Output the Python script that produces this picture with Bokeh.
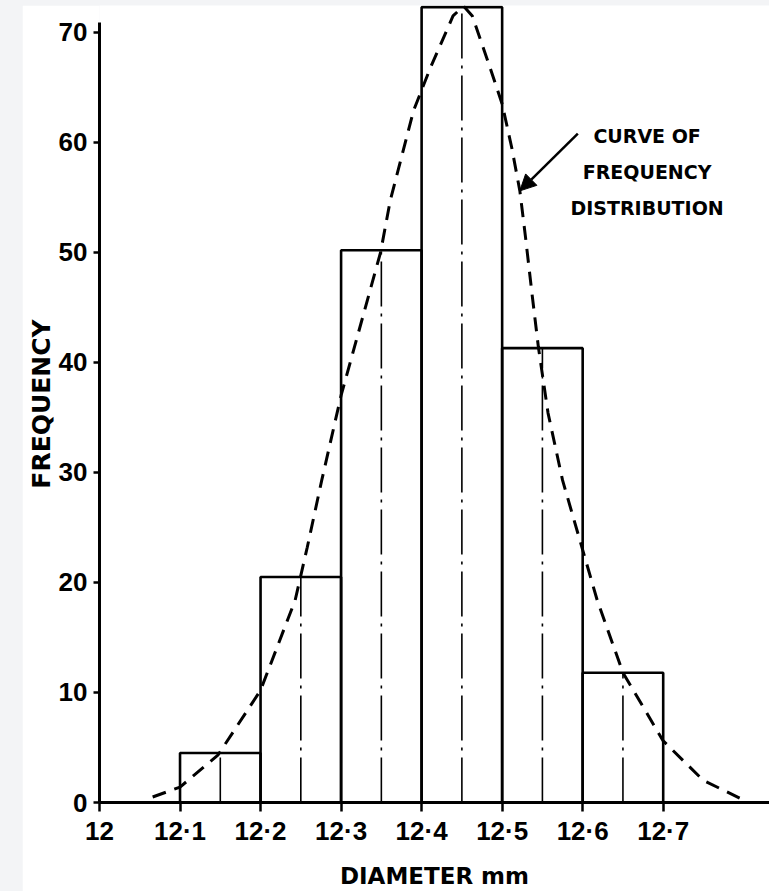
from bokeh.plotting import figure
from bokeh.models import Range1d, FixedTicker, Arrow, NormalHead, ColumnDataSource
from bokeh.layouts import column
from bokeh.core.properties import value
from bokeh.embed import file_html
from bokeh.resources import INLINE

# ---- data ----
bin_left = [12.1, 12.2, 12.3, 12.4, 12.5, 12.6]
bin_right = [12.2, 12.3, 12.4, 12.5, 12.6, 12.7]
bin_mid = [12.15, 12.25, 12.35, 12.45, 12.55, 12.65]
frequency = [4.5, 20.5, 50.2, 72.3, 41.3, 11.8]

curve_x = [12.066, 12.10, 12.147, 12.20, 12.243, 12.258, 12.276, 12.30, 12.349, 12.361,
           12.39, 12.411, 12.439, 12.452, 12.463, 12.485, 12.50, 12.512, 12.522, 12.529,
           12.537, 12.545, 12.557, 12.575, 12.618, 12.65, 12.70, 12.75, 12.795]
curve_y = [0.5, 1.4, 4.3, 10.2, 18.4, 23.2, 29.3, 37.0, 50.0, 54.7,
           62.9, 66.8, 71.5, 72.4, 71.5, 66.8, 63.5, 59.5, 55.6, 51.4,
           46.3, 41.4, 35.4, 29.3, 18.4, 11.8, 5.6, 2.0, 0.4]

x_tick_values = [12.0, 12.1, 12.2, 12.3, 12.4, 12.5, 12.6, 12.7]
x_tick_labels = ["12", "12·1", "12·2", "12·3", "12·4", "12·5", "12·6", "12·7"]
y_tick_values = [0, 10, 20, 30, 40, 50, 60, 70]

note_lines = ["CURVE OF", "FREQUENCY", "DISTRIBUTION"]
note_x = [12.68, 12.68, 12.68]
note_y = [60.6, 57.3, 54.0]
arrow_start = (12.594, 60.8)
arrow_end = (12.522, 55.6)

TICK_FONT = "Liberation Sans"
LABEL_FONT = "DejaVu Sans"

p = figure(width=747, height=886, output_backend="svg", toolbar_location=None,
           x_range=Range1d(12.0, 12.832), y_range=Range1d(0, 72.45),
           min_border_left=77, min_border_right=0, min_border_top=0, min_border_bottom=89)
p.margin = (5, 0, 0, 22)
p.outline_line_color = None
p.xgrid.visible = False
p.ygrid.visible = False
p.background_fill_color = "white"
p.border_fill_color = "white"

# bars
p.quad(left=bin_left, right=bin_right, bottom=0, top=frequency,
       fill_color=None, line_color="black", line_width=2.6)

# dash-dot centre lines
p.segment(x0=bin_mid, y0=[0] * len(bin_mid), x1=bin_mid, y1=frequency,
          line_color="black", line_width=1.6, line_dash="45 7 3 7")

# frequency curve
p.line(curve_x, curve_y, line_color="black", line_width=3, line_dash="14 9")

# annotation
src = ColumnDataSource(dict(x=note_x, y=note_y, t=note_lines))
p.text(x="x", y="y", text="t", source=src, text_align="center",
       text_baseline="alphabetic", text_font=value(LABEL_FONT),
       text_font_style="bold", text_font_size="19px", text_color="black")
p.add_layout(Arrow(end=NormalHead(size=16, fill_color="black", line_color="black", line_width=1),
                   x_start=arrow_start[0], y_start=arrow_start[1],
                   x_end=arrow_end[0], y_end=arrow_end[1],
                   line_color="black", line_width=2.5))

# x axis
xa = p.xaxis[0]
xa.ticker = FixedTicker(ticks=x_tick_values, minor_ticks=[])
xa.major_label_overrides = {v: s for v, s in zip(x_tick_values, x_tick_labels)}
xa.axis_line_width = 3
xa.major_tick_line_width = 2.5
xa.major_tick_out = 9
xa.major_tick_in = 0
xa.minor_tick_line_color = None
xa.major_label_standoff = 4
xa.major_label_text_font = TICK_FONT
xa.major_label_text_font_style = "bold"
xa.major_label_text_font_size = "26px"
xa.major_label_text_color = "black"
xa.axis_label = "DIAMETER mm"
xa.axis_label_text_font = LABEL_FONT
xa.axis_label_text_font_style = "bold"
xa.axis_label_text_font_size = "23px"
xa.axis_label_standoff = 14
xa.axis_label_text_color = "black"

# y axis
ya = p.yaxis[0]
ya.ticker = FixedTicker(ticks=y_tick_values, minor_ticks=[])
ya.bounds = (0, 70.9)
ya.axis_line_width = 3
ya.major_tick_line_width = 2.5
ya.major_tick_out = 6
ya.major_tick_in = 0
ya.minor_tick_line_color = None
ya.major_label_standoff = 6
ya.major_label_text_font = TICK_FONT
ya.major_label_text_font_style = "bold"
ya.major_label_text_font_size = "26px"
ya.major_label_text_color = "black"
ya.axis_label = "FREQUENCY"
ya.axis_label_text_font = LABEL_FONT
ya.axis_label_text_font_style = "bold"
ya.axis_label_text_font_size = "25px"
ya.axis_label_standoff = 0
ya.axis_label_text_color = "black"

layout = column(p, width=769, height=891, styles={"background-color": "#f3f4f6"})

open("out.html", "w").write(file_html(layout, INLINE))
